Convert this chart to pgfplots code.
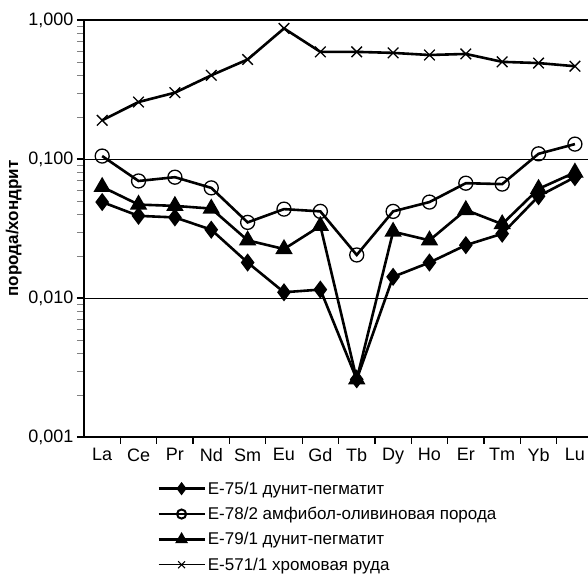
\documentclass[border=0pt]{standalone}
\usepackage{fontspec}
\setmainfont{Liberation Sans}
\usepackage{pgfplots}
\pgfplotsset{compat=1.18}
\usetikzlibrary{calc}

\begin{document}
\begin{tikzpicture}
  \begin{axis}[
      scale only axis,
      width=504pt, height=417pt,
      ymode=log,
      xmin=-0.5, xmax=13.36,
      ymin=0.001, ymax=1,
      axis x line=bottom, axis y line=left,
      axis line style={line width=2.4pt, -},
      xtick={0,...,13},
      xticklabels={La,Ce,Pr,Nd,Sm,Eu,Gd,Tb,Dy,Ho,Er,Tm,Yb,Lu},
      major x tick style={draw=none},
      minor xtick={0.5,1.5,...,12.5},
      minor x tick style={line width=1.2pt, black},
      minor tick length=7pt,
      ytick={0.001,0.01,0.1,1},
      yticklabels={{0,001},{0,010},{0,100},{1,000}},
      major y tick style={line width=1.2pt, black},
      major tick length=7pt,
      tick align=outside,
      ymajorgrids,
      grid style={black, line width=1pt},
      tick label style={font=\fontsize{18}{21}\selectfont},
      x tick label style={yshift=-1pt},
      /pgf/number format/assume math mode=true,
      ylabel={порода/хондрит},
      ylabel style={font=\fontsize{17}{20}\selectfont\bfseries},
      legend style={draw=none, fill=none, at={(rel axis cs:0.145,-0.102)}, anchor=north west,
        font=\fontsize{17}{20}\selectfont, row sep=7.5pt, cells={anchor=west},
        inner sep=0pt},
      legend image code/.code={\draw[mark repeat=2,mark phase=2, mark options={scale=0.65}] plot coordinates {(0pt,0pt)(23pt,0pt)(46pt,0pt)};},
      clip=false,
    ]
    \coordinate (o) at (rel axis cs:0,0);
    \draw[line width=2.4pt] (rel axis cs:0,1) -- (rel axis cs:1,1);

    % E-75/1 dunite-pegmatite
    \addplot[black, line width=2.6pt, mark=diamond*, mark size=7pt] coordinates {
      (0,0.049)(1,0.039)(2,0.038)(3,0.031)(4,0.018)(5,0.011)(6,0.0115)
      (7,0.0026)(8,0.0142)(9,0.018)(10,0.024)(11,0.029)(12,0.054)(13,0.074)
    };
    \addlegendentry{E-75/1 дунит-пегматит}

    % E-78/2 amphibole-olivine rock
    \addplot[black, line width=2.6pt, mark=o, mark size=7pt, mark options={line width=1.3pt, fill=white},
      legend image code/.code={\draw[line width=2pt, mark repeat=2, mark phase=2, mark options={scale=0.65}] plot coordinates {(0pt,0pt)(23pt,0pt)(46pt,0pt)};}] coordinates {
      (0,0.105)(1,0.0695)(2,0.074)(3,0.062)(4,0.035)(5,0.0436)(6,0.042)
      (7,0.0204)(8,0.042)(9,0.049)(10,0.067)(11,0.066)(12,0.109)(13,0.128)
    };
    \addlegendentry{E-78/2 амфибол-оливиновая порода}

    % E-79/1 dunite-pegmatite
    \addplot[black, line width=2.6pt, mark=triangle*, mark size=7.5pt] coordinates {
      (0,0.063)(1,0.047)(2,0.046)(3,0.044)(4,0.026)(5,0.0225)(6,0.033)
      (7,0.0026)(8,0.030)(9,0.026)(10,0.043)(11,0.034)(12,0.061)(13,0.080)
    };
    \addlegendentry{E-79/1 дунит-пегматит}

    % E-571/1 chromite ore (thin line in the legend)
    \addplot[black, line width=2.6pt, mark=x, mark size=7.5pt, mark options={line width=1.3pt},
      legend image code/.code={\draw[line width=1pt, mark repeat=2, mark phase=2, mark options={scale=0.65, line width=1pt}] plot coordinates {(0pt,0pt)(23pt,0pt)(46pt,0pt)};}] coordinates {
      (0,0.19)(1,0.257)(2,0.30)(3,0.40)(4,0.52)(5,0.87)(6,0.59)
      (7,0.59)(8,0.58)(9,0.56)(10,0.57)(11,0.50)(12,0.49)(13,0.465)
    };
    \addlegendentry{E-571/1 хромовая руда}
  \end{axis}
  \pgfresetboundingbox
  \path ($(o)+(-84pt,-142pt)$) rectangle ($(o)+(504pt,437pt)$);
\end{tikzpicture}
\end{document}
